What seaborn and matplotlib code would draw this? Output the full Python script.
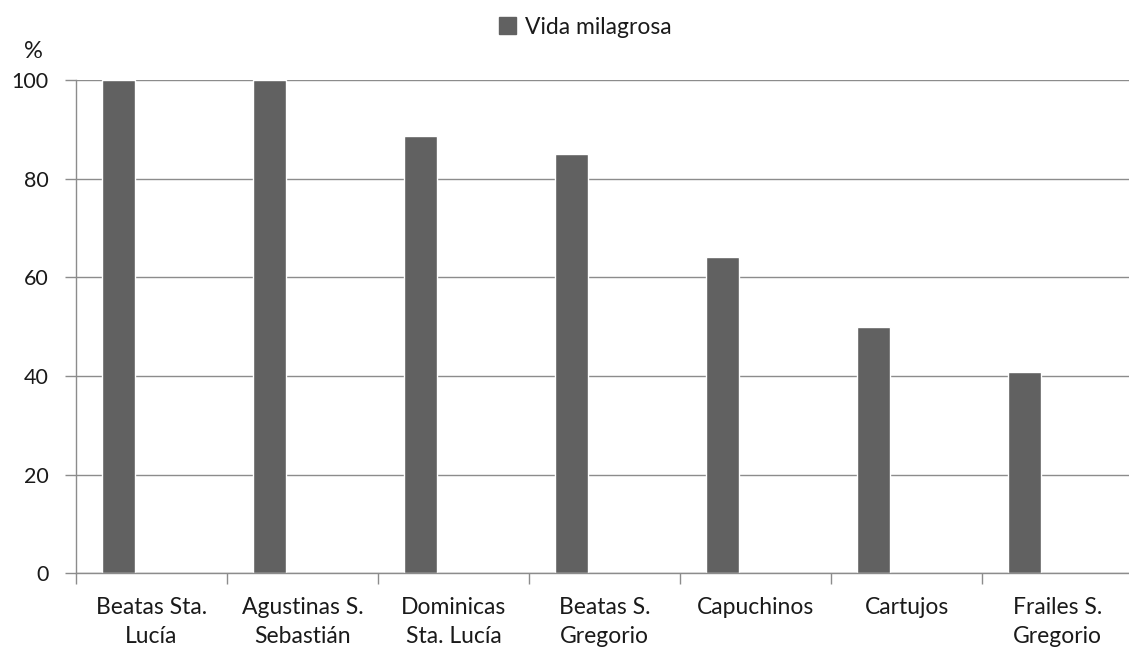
import matplotlib
matplotlib.use("Agg")
import matplotlib.pyplot as plt
import seaborn as sns
import pandas as pd
import numpy as np
from matplotlib.ticker import FixedLocator
from matplotlib.patches import Patch

categories = ["Beatas Sta.\nLucía", "Agustinas S.\nSebastián", "Dominicas\nSta. Lucía",
              "Beatas S.\nGregorio", "Capuchinos", "Cartujos", "Frailes S.\nGregorio"]
vida_milagrosa = [100, 100, 88.6, 84.9, 64.1, 50, 40.8]
series_name = "Vida milagrosa"
series_order = [series_name, " ", "  "]  # empty slots as in the original grouped layout
y_ticks = [0, 20, 40, 60, 80, 100]

df = pd.DataFrame({"categoria": categories, "valor": vida_milagrosa, "serie": series_name})

sns.set_theme(style="white")
plt.rcParams['font.family'] = ['Lato', 'DejaVu Sans']

fig = plt.figure(figsize=(11.29, 6.53), dpi=100)
ax = fig.add_axes([76/1129, 1-573.3/653, 1-76/1129, (573.3-80)/653])

bar_color = "#616161"
grid_color = "#8c8c8c"
text_color = "#1a1a1a"

sns.barplot(data=df, x="categoria", y="valor", hue="serie", hue_order=series_order,
            order=categories, palette=[bar_color, bar_color, bar_color],
            width=0.66, dodge=True, saturation=1, errorbar=None, legend=False, ax=ax)

ax.set_ylim(0, 100)
ax.set_xlim(-0.5, -0.5 + (1129-76)/151)
ax.set_yticks(y_ticks)
ax.set_yticklabels([str(t) for t in y_ticks], fontsize=15.5, color=text_color)
ax.yaxis.grid(True, color=grid_color, linewidth=1)
ax.set_axisbelow(True)
ax.set_xlabel("")
ax.set_ylabel("")

ax.set_xticks(range(len(categories)))
ax.set_xticklabels(categories, fontsize=16.5, color=text_color, linespacing=1.45)
ax.tick_params(axis="x", which="major", length=0, pad=17)
ax.xaxis.set_minor_locator(FixedLocator(np.arange(-0.5, len(categories), 1.0)))
ax.tick_params(axis="x", which="minor", length=8, color=grid_color, width=1, direction="out", bottom=True)
ax.tick_params(axis="y", length=8, color=grid_color, width=1, direction="out", left=True, pad=11.5)

for s in ["top", "right"]:
    ax.spines[s].set_visible(False)
for s in ["left", "bottom"]:
    ax.spines[s].set_color(grid_color)
    ax.spines[s].set_linewidth(1)

fig.text(33/1129, 1-52/653, "%", fontsize=17, color=text_color, ha="center", va="center")

handle = Patch(facecolor=bar_color, edgecolor=bar_color)
fig.legend([handle], [series_name], loc="center", bbox_to_anchor=(585/1129, 1-27/653),
           frameon=False, fontsize=16.5, handlelength=0.75, handleheight=0.75, handletextpad=0.4,
           labelcolor=text_color)

fig.savefig("out.png", dpi=100, facecolor="white")
